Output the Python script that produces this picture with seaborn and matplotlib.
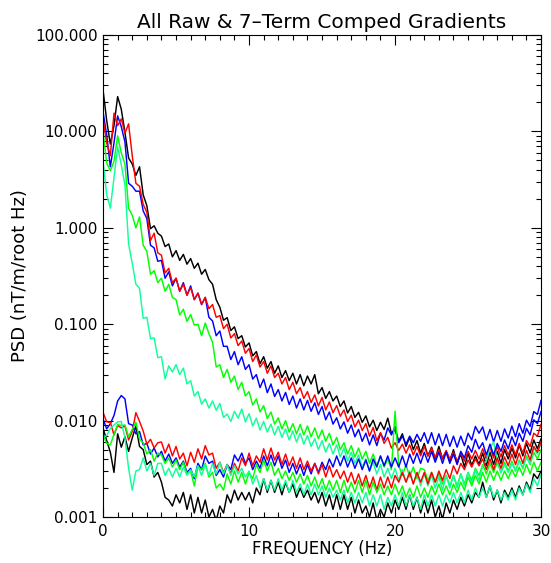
import numpy as np
import matplotlib
matplotlib.use("Agg")
import matplotlib.pyplot as plt
from matplotlib.ticker import FixedLocator, LogLocator, NullFormatter
import seaborn as sns

# Frequency bins (Hz), 0.25 Hz resolution
freq = np.linspace(0.0, 30.0, 121)

# ---- Raw gradient spectra (nT/m/root Hz) ----
raw_black = [
    27, 13, 7.4, 11.5, 23, 17, 9.8, 5.3,
    4.6, 3.5, 4.3, 2.2, 1.7, 0.98, 1.05, 0.88,
    0.82, 0.64, 0.68, 0.5, 0.58, 0.46, 0.53, 0.42,
    0.48, 0.38, 0.43, 0.33, 0.37, 0.29, 0.26, 0.18,
    0.15, 0.11, 0.117, 0.086, 0.094, 0.071, 0.076, 0.058,
    0.064, 0.047, 0.052, 0.039, 0.046, 0.035, 0.041, 0.031,
    0.037, 0.028, 0.033, 0.026, 0.031, 0.024, 0.030, 0.023,
    0.029, 0.024, 0.030, 0.019, 0.022, 0.017, 0.020, 0.016,
    0.018, 0.014, 0.016, 0.012, 0.014, 0.0108, 0.0122, 0.0096,
    0.0112, 0.0086, 0.0101, 0.0079, 0.0096, 0.0081, 0.0106, 0.0074,
    0.0080, 0.0061, 0.0073, 0.0054, 0.0067, 0.0050, 0.0062, 0.0046,
    0.0058, 0.0043, 0.0053, 0.0040, 0.0054, 0.0040, 0.0048, 0.0038,
    0.0050, 0.0036, 0.0045, 0.0033, 0.0046, 0.0034, 0.0043, 0.0035,
    0.0046, 0.0034, 0.0047, 0.0035, 0.0048, 0.0036, 0.0050, 0.0040,
    0.0052, 0.0041, 0.0056, 0.0043, 0.0058, 0.0046, 0.0063, 0.0051,
    0.0065,
]
raw_red = [
    13.5, 7.6, 5.6, 15.5, 11.5, 13.5, 9.6, 12,
    5.6, 2.9, 2.7, 1.75, 1.45, 0.74, 0.88, 0.55,
    0.52, 0.34, 0.38, 0.27, 0.3, 0.22, 0.26, 0.2,
    0.24, 0.18, 0.21, 0.16, 0.19, 0.145, 0.16, 0.118,
    0.123, 0.09, 0.1, 0.072, 0.08, 0.06, 0.067, 0.05,
    0.056, 0.041, 0.048, 0.036, 0.041, 0.031, 0.037, 0.028,
    0.031, 0.024, 0.028, 0.021, 0.025, 0.019, 0.022, 0.017,
    0.020, 0.0154, 0.0185, 0.0142, 0.0174, 0.0129, 0.0156, 0.0121,
    0.0143, 0.0111, 0.0129, 0.0098, 0.0114, 0.0086, 0.0101, 0.0079,
    0.0093, 0.0069, 0.0085, 0.0062, 0.0075, 0.0058, 0.0067, 0.0052,
    0.0059, 0.0049, 0.0057, 0.0046, 0.0056, 0.0044, 0.0054, 0.0043,
    0.0054, 0.0043, 0.0052, 0.0041, 0.0050, 0.0041, 0.0049, 0.0040,
    0.0047, 0.0038, 0.0046, 0.0038, 0.0048, 0.0040, 0.0049, 0.0040,
    0.0051, 0.0040, 0.0053, 0.0041, 0.0054, 0.0042, 0.0055, 0.0044,
    0.0056, 0.0044, 0.0058, 0.0046, 0.0062, 0.0054, 0.0074, 0.0069,
    0.0092,
]
raw_blue = [
    16, 9.2, 4.3, 7.6, 14.5, 11.2, 7.8, 2.9,
    2.7, 2.4, 2.4, 1.5, 1.25, 0.66, 0.62, 0.45,
    0.46, 0.3, 0.35, 0.25, 0.3, 0.22, 0.27, 0.2,
    0.25, 0.18, 0.21, 0.16, 0.19, 0.118, 0.108, 0.076,
    0.085, 0.059, 0.059, 0.043, 0.052, 0.038, 0.046, 0.034,
    0.038, 0.027, 0.030, 0.022, 0.027, 0.0195, 0.024, 0.0178,
    0.021, 0.016, 0.0196, 0.0147, 0.018, 0.0135, 0.0168, 0.0129,
    0.0162, 0.0125, 0.0153, 0.0116, 0.014, 0.0102, 0.0123, 0.0092,
    0.0107, 0.0082, 0.0097, 0.0074, 0.009, 0.0068, 0.0081, 0.0061,
    0.0074, 0.0056, 0.0071, 0.0055, 0.0074, 0.0063, 0.0084, 0.0071,
    0.0087, 0.0059, 0.0069, 0.0057, 0.0069, 0.0059, 0.0072, 0.0061,
    0.0075, 0.0058, 0.0075, 0.0056, 0.0073, 0.0055, 0.0072, 0.0054,
    0.0069, 0.0053, 0.0069, 0.0055, 0.0074, 0.0063, 0.0087, 0.0074,
    0.0086, 0.0063, 0.0081, 0.0060, 0.0079, 0.0061, 0.0082, 0.0066,
    0.0088, 0.0068, 0.0093, 0.0074, 0.0101, 0.0087, 0.0124, 0.0116,
    0.0163,
]
raw_green = [
    10, 4.7, 3.9, 4.9, 9.0, 6.0, 4.6, 1.6,
    1.35, 1.0, 1.3, 0.66, 0.57, 0.33, 0.36, 0.27,
    0.3, 0.22, 0.26, 0.19, 0.18, 0.125, 0.143, 0.107,
    0.126, 0.098, 0.1, 0.076, 0.103, 0.08, 0.065, 0.036,
    0.038, 0.028, 0.034, 0.025, 0.029, 0.021, 0.025, 0.018,
    0.020, 0.0145, 0.0168, 0.0123, 0.0143, 0.0105, 0.0123, 0.0092,
    0.0107, 0.0082, 0.0100, 0.0076, 0.0093, 0.0073, 0.0091, 0.0071,
    0.0088, 0.0068, 0.0084, 0.0065, 0.0080, 0.0061, 0.0074, 0.0056,
    0.0067, 0.0050, 0.0059, 0.0045, 0.0055, 0.0042, 0.0052, 0.0040,
    0.0048, 0.0036, 0.0045, 0.0034, 0.0043, 0.0033, 0.0040, 0.0031,
    0.0125, 0.0034, 0.0027, 0.0035, 0.0026, 0.0033, 0.0025, 0.0032,
    0.0031, 0.0024, 0.0029, 0.0023, 0.0028, 0.0022, 0.0027, 0.0021,
    0.0027, 0.0021, 0.0028, 0.0022, 0.0029, 0.0024, 0.0032, 0.0027,
    0.0035, 0.0028, 0.0036, 0.0029, 0.0037, 0.0029, 0.0037, 0.0030,
    0.0038, 0.0030, 0.0039, 0.0032, 0.0043, 0.0035, 0.0047, 0.0040,
    0.0050,
]
raw_cyan = [
    5.0, 2.2, 1.6, 3.3, 6.9, 4.5, 2.8, 0.68,
    0.43, 0.26, 0.235, 0.115, 0.118, 0.071, 0.072, 0.045,
    0.046, 0.027, 0.037, 0.032, 0.038, 0.03, 0.035, 0.024,
    0.026, 0.018, 0.02, 0.0148, 0.0168, 0.0135, 0.016, 0.0128,
    0.0151, 0.0108, 0.0117, 0.0098, 0.0125, 0.0106, 0.0132, 0.0097,
    0.0118, 0.0088, 0.0106, 0.0080, 0.0098, 0.0076, 0.0092, 0.0071,
    0.0087, 0.0067, 0.0082, 0.0063, 0.0078, 0.0060, 0.0074, 0.0057,
    0.0070, 0.0054, 0.0065, 0.0050, 0.0062, 0.0047, 0.0058, 0.0045,
    0.0056, 0.0042, 0.0052, 0.0038, 0.0047, 0.0036, 0.0044, 0.0033,
    0.0040, 0.0030, 0.0037, 0.0028, 0.0035, 0.0026, 0.0032, 0.0025,
    0.0032, 0.0024, 0.0031, 0.0023, 0.0030, 0.0022, 0.0029, 0.0021,
    0.0028, 0.0021, 0.0027, 0.0020, 0.0026, 0.0019, 0.0027, 0.0020,
    0.0027, 0.0020, 0.0028, 0.0021, 0.0029, 0.0022, 0.0031, 0.0024,
    0.0034, 0.0038, 0.0052, 0.0060, 0.0039, 0.0029, 0.0035, 0.0029,
    0.0036, 0.0030, 0.0038, 0.0033, 0.0041, 0.0036, 0.0052, 0.0045,
    0.0060,
]

# ---- 7-term compensated spectra (nT/m/root Hz) ----
comp_black = [
    0.0084, 0.0062, 0.0047, 0.0029, 0.0073, 0.0053, 0.0068, 0.0048,
    0.0066, 0.0088, 0.0054, 0.0050, 0.0035, 0.0038, 0.0026, 0.0029,
    0.0023, 0.0016, 0.0015, 0.0013, 0.0017, 0.0014, 0.0018, 0.0012,
    0.0017, 0.0011, 0.0016, 0.0011, 0.0015, 0.0010, 0.0012, 0.00092,
    0.0013, 0.0011, 0.0017, 0.0014, 0.0019, 0.0015, 0.0018, 0.0015,
    0.0018, 0.0014, 0.0020, 0.0017, 0.0025, 0.0018, 0.0024, 0.0018,
    0.0023, 0.0017, 0.0023, 0.0018, 0.0022, 0.0016, 0.0020, 0.0016,
    0.0019, 0.0015, 0.0018, 0.0014, 0.0018, 0.0013, 0.0017, 0.0012,
    0.0017, 0.0012, 0.0017, 0.0012, 0.0016, 0.0011, 0.0015, 0.0011,
    0.0013, 0.0010, 0.0014, 0.00092, 0.0012, 0.0010, 0.0014, 0.0011,
    0.0015, 0.0012, 0.0016, 0.0012, 0.0017, 0.0012, 0.0016, 0.0011,
    0.0015, 0.0011, 0.0015, 0.0010, 0.0013, 0.00095, 0.0014, 0.0011,
    0.0015, 0.0012, 0.0016, 0.0013, 0.0017, 0.0014, 0.0018, 0.0016,
    0.0023, 0.0016, 0.0021, 0.0015, 0.0019, 0.0014, 0.0019, 0.0016,
    0.0020, 0.0016, 0.0021, 0.0017, 0.0023, 0.0019, 0.0028, 0.0025,
    0.0030,
]
comp_red = [
    0.0122, 0.0097, 0.0096, 0.0071, 0.0089, 0.0084, 0.0088, 0.0063,
    0.0077, 0.0121, 0.0098, 0.0078, 0.0057, 0.0064, 0.0052, 0.0059,
    0.0060, 0.0046, 0.0057, 0.0043, 0.0054, 0.0040, 0.0046, 0.0034,
    0.0047, 0.0037, 0.0051, 0.0040, 0.0055, 0.0044, 0.0046, 0.0032,
    0.0037, 0.0029, 0.0035, 0.0028, 0.0036, 0.0030, 0.0041, 0.0034,
    0.0046, 0.0034, 0.0043, 0.0037, 0.0051, 0.0039, 0.0052, 0.0039,
    0.0047, 0.0035, 0.0045, 0.0034, 0.0042, 0.0032, 0.0041, 0.0031,
    0.0038, 0.0030, 0.0036, 0.0028, 0.0035, 0.0026, 0.0034, 0.0026,
    0.0031, 0.0025, 0.0030, 0.0023, 0.0029, 0.0022, 0.0028, 0.0021,
    0.0027, 0.0020, 0.0026, 0.0019, 0.0026, 0.0020, 0.0026, 0.0020,
    0.0027, 0.0023, 0.0029, 0.0023, 0.0029, 0.0022, 0.0029, 0.0023,
    0.0029, 0.0022, 0.0029, 0.0023, 0.0030, 0.0024, 0.0031, 0.0025,
    0.0034, 0.0028, 0.0036, 0.0031, 0.0039, 0.0033, 0.0040, 0.0034,
    0.0040, 0.0031, 0.0040, 0.0031, 0.0041, 0.0032, 0.0042, 0.0034,
    0.0045, 0.0035, 0.0046, 0.0036, 0.0049, 0.0039, 0.0054, 0.0047,
    0.0060,
]
comp_blue = [
    0.0104, 0.0082, 0.0093, 0.0113, 0.0160, 0.0182, 0.0168, 0.0093,
    0.0090, 0.0073, 0.0077, 0.0056, 0.0058, 0.0045, 0.0052, 0.0042,
    0.0048, 0.0038, 0.0045, 0.0036, 0.0041, 0.0033, 0.0038, 0.0029,
    0.0032, 0.0025, 0.0036, 0.0031, 0.0043, 0.0036, 0.0038, 0.0027,
    0.0031, 0.0026, 0.0035, 0.0031, 0.0044, 0.0038, 0.0046, 0.0036,
    0.0041, 0.0031, 0.0038, 0.0032, 0.0043, 0.0034, 0.0044, 0.0034,
    0.0043, 0.0032, 0.0039, 0.0029, 0.0036, 0.0028, 0.0035, 0.0027,
    0.0035, 0.0028, 0.0036, 0.0029, 0.0037, 0.0031, 0.0040, 0.0033,
    0.0043, 0.0034, 0.0043, 0.0033, 0.0041, 0.0032, 0.0040, 0.0031,
    0.0039, 0.0030, 0.0040, 0.0033, 0.0043, 0.0034, 0.0043, 0.0033,
    0.0041, 0.0033, 0.0043, 0.0033, 0.0045, 0.0036, 0.0046, 0.0036,
    0.0047, 0.0037, 0.0048, 0.0037, 0.0047, 0.0036, 0.0047, 0.0036,
    0.0045, 0.0035, 0.0048, 0.0041, 0.0055, 0.0047, 0.0064, 0.0051,
    0.0059, 0.0044, 0.0057, 0.0044, 0.0058, 0.0048, 0.0063, 0.0051,
    0.0068, 0.0055, 0.0074, 0.0061, 0.0083, 0.0071, 0.0102, 0.0093,
    0.0125,
]
comp_green = [
    0.0071, 0.0058, 0.0056, 0.0072, 0.0091, 0.0089, 0.0090, 0.0068,
    0.0081, 0.0096, 0.0064, 0.0059, 0.0045, 0.0050, 0.0038, 0.0046,
    0.0044, 0.0036, 0.0041, 0.0033, 0.0039, 0.0031, 0.0037, 0.0028,
    0.0030, 0.0021, 0.0033, 0.0031, 0.0036, 0.0026, 0.0029, 0.0020,
    0.0022, 0.0019, 0.0028, 0.0022, 0.0030, 0.0023, 0.0029, 0.0022,
    0.0029, 0.0025, 0.0035, 0.0029, 0.0039, 0.0030, 0.0037, 0.0027,
    0.0032, 0.0025, 0.0030, 0.0024, 0.0029, 0.0023, 0.0028, 0.0022,
    0.0027, 0.0021, 0.0026, 0.0020, 0.0025, 0.0019, 0.0024, 0.0019,
    0.0024, 0.0018, 0.0024, 0.0018, 0.0023, 0.0018, 0.0024, 0.0018,
    0.0024, 0.0017, 0.0023, 0.0018, 0.0022, 0.0017, 0.0021, 0.0017,
    0.0022, 0.0017, 0.0021, 0.0016, 0.0020, 0.0016, 0.0021, 0.0016,
    0.0020, 0.0016, 0.0021, 0.0017, 0.0022, 0.0017, 0.0021, 0.0017,
    0.0022, 0.0018, 0.0023, 0.0019, 0.0026, 0.0021, 0.0027, 0.0022,
    0.0029, 0.0023, 0.0030, 0.0024, 0.0030, 0.0024, 0.0030, 0.0025,
    0.0031, 0.0026, 0.0033, 0.0027, 0.0035, 0.0028, 0.0037, 0.0030,
    0.0037,
]
comp_cyan = [
    0.0066, 0.0070, 0.0083, 0.0090, 0.0097, 0.0098, 0.0066, 0.0032,
    0.0019, 0.0030, 0.0031, 0.0041, 0.0030, 0.0036, 0.0027, 0.0036,
    0.0036, 0.0027, 0.0032, 0.0026, 0.0032, 0.0026, 0.0033, 0.0027,
    0.0031, 0.0026, 0.0034, 0.0027, 0.0035, 0.0027, 0.0036, 0.0028,
    0.0037, 0.0028, 0.0035, 0.0027, 0.0034, 0.0028, 0.0032, 0.0026,
    0.0030, 0.0022, 0.0027, 0.0020, 0.0025, 0.0019, 0.0024, 0.0019,
    0.0025, 0.0019, 0.0024, 0.0018, 0.0024, 0.0018, 0.0022, 0.0017,
    0.0022, 0.0017, 0.0022, 0.0017, 0.0021, 0.0016, 0.0020, 0.0016,
    0.0019, 0.0015, 0.0019, 0.0014, 0.0018, 0.0014, 0.0018, 0.0014,
    0.0018, 0.0013, 0.0017, 0.0013, 0.0017, 0.0012, 0.0016, 0.0013,
    0.0017, 0.0013, 0.0018, 0.0013, 0.0017, 0.0013, 0.0016, 0.0012,
    0.0017, 0.0013, 0.0017, 0.0013, 0.0017, 0.0013, 0.0017, 0.0014,
    0.0018, 0.0014, 0.0018, 0.0014, 0.0019, 0.0015, 0.0020, 0.0016,
    0.0020, 0.0016, 0.0021, 0.0016, 0.0019, 0.0015, 0.0018, 0.0015,
    0.0019, 0.0015, 0.0020, 0.0017, 0.0022, 0.0018, 0.0025, 0.0021,
    0.0028,
]

series = [
    (raw_black, "black"), (raw_blue, "#0000ff"), (raw_red, "#ff0000"),
    (raw_green, "#00ff00"), (raw_cyan, "#10ff9a"),
    (comp_black, "black"), (comp_blue, "#0000ff"), (comp_red, "#ff0000"),
    (comp_green, "#00ff00"), (comp_cyan, "#10ff9a"),
]

sns.set_style("white")
plt.rcParams["font.family"] = ["DejaVu Sans"]
plt.rcParams["text.color"] = "black"
plt.rcParams["axes.labelcolor"] = "black"

fig = plt.figure(figsize=(5.51, 5.63), dpi=100)
ax = fig.add_axes([0.187, 0.0817, 0.795, 0.856])

for vals, col in series:
    assert len(vals) == len(freq)
    sns.lineplot(x=freq, y=np.asarray(vals), color=col, linewidth=1.05,
                 ax=ax, estimator=None, sort=False, legend=False)

ax.set_yscale("log")
ax.set_xlim(0, 30)
ax.set_ylim(0.001, 100)

ax.xaxis.set_major_locator(FixedLocator([0, 10, 20, 30]))
ax.xaxis.set_minor_locator(FixedLocator(np.arange(0, 31, 1)))
ax.yaxis.set_major_locator(FixedLocator([0.001, 0.01, 0.1, 1, 10, 100]))
ax.yaxis.set_minor_locator(LogLocator(base=10, subs=np.arange(2, 10)))
ax.yaxis.set_minor_formatter(NullFormatter())
ax.set_yticklabels(["0.001", "0.010", "0.100", "1.000", "10.000", "100.000"])
ax.set_xticklabels(["0", "10", "20", "30"])

ax.tick_params(which="both", direction="in", top=True, right=True,
               bottom=True, left=True, color="black", width=0.8,
               labelsize=11, labelcolor="black")
ax.tick_params(which="major", length=7)
ax.tick_params(which="minor", length=3.5)
ax.tick_params(axis="x", which="major", pad=5)
ax.tick_params(axis="y", which="major", pad=4)

for sp in ax.spines.values():
    sp.set_color("black")
    sp.set_linewidth(0.8)

ax.set_xlabel("FREQUENCY (Hz)", fontsize=12, labelpad=1)
ax.set_ylabel("PSD (nT/m/root Hz)", fontsize=13, labelpad=4)
ax.set_title("All Raw & 7\u2013Term Comped Gradients", fontsize=14.5, pad=5)

fig.savefig("out.png", dpi=100, facecolor="white")
